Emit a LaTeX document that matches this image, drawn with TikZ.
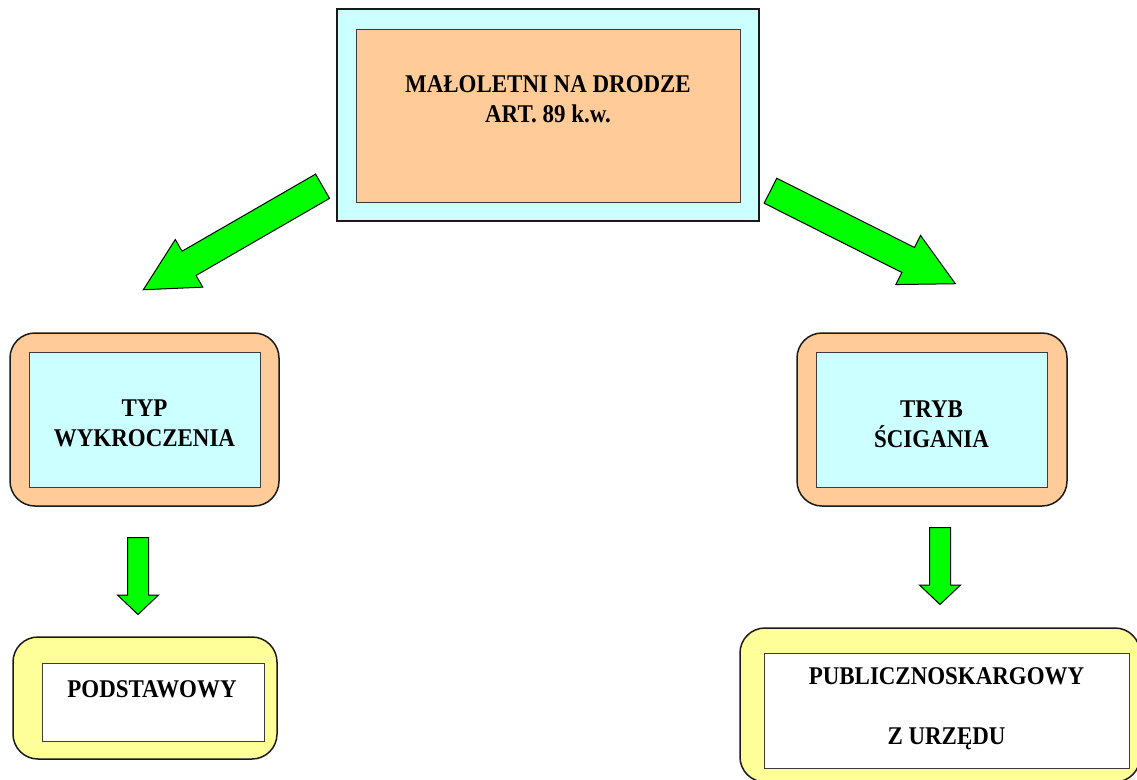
\documentclass[tikz,border=0pt]{standalone}
\usepackage{fontspec}
\newfontfamily\boxfont{Liberation Serif}[FakeStretch=0.9]
\usetikzlibrary{shapes.arrows}
\definecolor{lcyan}{HTML}{CCFFFF}
\definecolor{peach}{HTML}{FFCC99}
\definecolor{lyellow}{HTML}{FFFF99}
\definecolor{agreen}{HTML}{00FF00}
\definecolor{edge}{HTML}{1A1A1A}
\tikzset{
  outerbox/.style={draw=edge, line width=1.5pt, rounded corners=25pt, inner sep=0pt},
  squarebox/.style={draw=edge, line width=1.5pt, inner sep=0pt},
  innerbox/.style={draw=edge!85, line width=1pt, inner sep=0pt},
  label text/.style={inner sep=0pt, align=center, anchor=north,
    font=\boxfont\bfseries\fontsize{25.5}{30}\selectfont},
  garrow/.style={single arrow, draw=black, fill=agreen, line width=1pt,
    inner xsep=0pt, anchor=tail},
  diagarrow/.style={garrow, inner ysep=13.5pt, single arrow head extend=13.5pt,
    single arrow tip angle=55, minimum height=207pt},
  downarrow/.style={garrow, inner ysep=10pt, single arrow head extend=10pt,
    single arrow tip angle=93, minimum height=77pt, rotate=-90},
}
\begin{document}
\begin{tikzpicture}[x=1pt, y=-1pt]
\useasboundingbox (0,0) rectangle (1137,779);
\clip (0,0) rectangle (1137,779);
% top
\node[squarebox, fill=lcyan, minimum width=422pt, minimum height=212pt] (topout) at (548,115) {};
\node[innerbox, fill=peach, minimum width=384pt, minimum height=173pt] (topin) at (548,115.5) {};
\node[label text] (toptxt) at (548,75) {MAŁOLETNI NA DRODZE\\ART. 89 k.w.};
% left middle
\node[outerbox, fill=peach, minimum width=269pt, minimum height=173pt] (typout) at (144.5,419.5) {};
\node[innerbox, fill=lcyan, minimum width=231pt, minimum height=135pt] (typin) at (144.5,419.5) {};
\node[label text] (typtxt) at (144.5,400) {TYP\\WYKROCZENIA};
% right middle
\node[outerbox, fill=peach, minimum width=270pt, minimum height=173pt] (trout) at (932,419.5) {};
\node[innerbox, fill=lcyan, minimum width=231pt, minimum height=135pt] (trin) at (931.5,419.5) {};
\node[label text] (trtxt) at (931.5,401) {TRYB\\ŚCIGANIA};
% left bottom
\node[outerbox, fill=lyellow, minimum width=264pt, minimum height=122pt] (podout) at (145,698) {};
\node[innerbox, fill=white, minimum width=222pt, minimum height=78pt] (podin) at (153,702) {};
\node[label text] (podtxt) at (152,680) {PODSTAWOWY};
% right bottom
\node[outerbox, fill=lyellow, minimum width=400pt, minimum height=154pt] (pubout) at (940,705) {};
\node[innerbox, fill=white, minimum width=365pt, minimum height=115pt] (pubin) at (946.5,710.5) {};
\node[label text] (pubtxt) at (946.5,667) {PUBLICZNOSKARGOWY\\[30pt]Z URZĘDU};
% arrows
\coordinate (tailL) at (323,186);
\coordinate (tailR) at (770,190.5);
\coordinate (tailDL) at (138,537);
\coordinate (tailDR) at (940,527);
\node[diagarrow, rotate=210] (arrL) at (tailL) {};
\node[diagarrow, rotate=-26.7] (arrR) at (tailR) {};
\node[downarrow] (arrDL) at (tailDL) {};
\node[downarrow] (arrDR) at (tailDR) {};
\end{tikzpicture}
\end{document}
